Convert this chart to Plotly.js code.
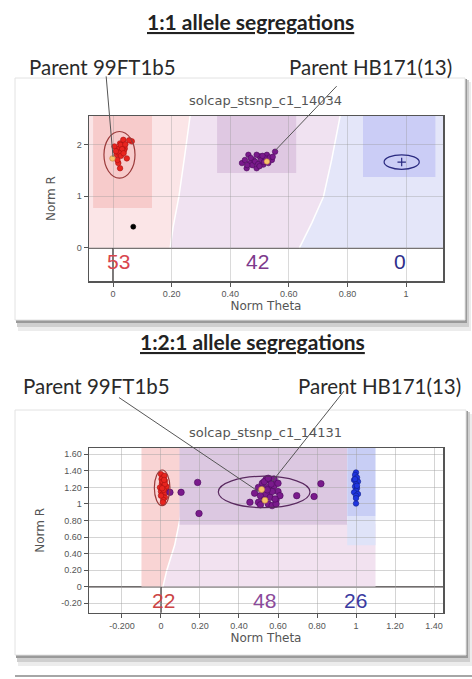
<!DOCTYPE html>
<html>
<head>
<meta charset="utf-8">
<script src="https://cdn.plot.ly/plotly-3.0.1.min.js"></script>
<style>html,body{margin:0;padding:0;background:#fff;}#chart{width:472px;height:679px;}</style>
</head>
<body>
<div id="chart"></div>
<script>
// ---------------- DATA ----------------
// Panel 1 : solcap_stsnp_c1_14034 (1:1 segregation)
var topTitle = "1:1 allele segregations";
var topSnp = "solcap_stsnp_c1_14034";
var topRedX = [0.024,0.035,0.064,0.055,0.018,0.030,0.013,0.047,0.024,0.018,0.040,0.005,0.028,0.033,0.022,0.037,0.026,0.031,0.020,0.042,0.015,0.027,0.036,0.010];
var topRedY = [2.02,2.09,2.06,2.08,1.90,1.86,1.80,1.73,1.54,1.64,1.92,1.96,1.95,1.98,1.93,1.88,1.99,1.91,1.84,2.00,1.70,1.78,1.83,1.87];
var topPurpleX = [0.440,0.456,0.479,0.500,0.525,0.553,0.542,0.513,0.490,0.467,0.450,0.530,0.490,0.462,0.475,0.505,0.520,0.485,0.510,0.535,0.470,0.495,0.545,0.458,0.515,0.500];
var topPurpleY = [1.64,1.54,1.70,1.77,1.80,1.86,1.70,1.61,1.54,1.64,1.70,1.64,1.80,1.80,1.60,1.70,1.73,1.67,1.78,1.75,1.74,1.62,1.76,1.60,1.66,1.58];
var topParentX = [-0.002,0.525];
var topParentY = [1.73,1.67];
var topNoCallX = [0.069];
var topNoCallY = [0.41];
var topCentroidX = [0.985];
var topCentroidY = [1.66];
var topCounts = ["53","42","0"];
var topCountTheta = [0.018,0.494,0.98];
var topEllipseCx = [0.022,0.985];
var topEllipseCy = [1.80,1.66];
var topEllipseRx = [0.053,0.060];
var topEllipseRy = [0.45,0.14];
var topPinkEdgeX = [0.263,0.245,0.225,0.205,0.195];
var topPinkEdgeY = [2.55,1.80,1.00,0.40,0.00];
var topBlueEdgeX = [0.775,0.746,0.718,0.678,0.636];
var topBlueEdgeY = [2.55,1.70,0.99,0.48,0.00];
var topArrowX = [0.000,0.553];
var topArrowY = [1.76,1.88];
var topXTicks = [0,0.2,0.4,0.6,0.8,1];
var topXTickText = ["0","0.20","0.40","0.60","0.80","1"];
var topYTicks = [0,1,2];
var topYTickText = ["0","1","2"];

// Panel 2 : solcap_stsnp_c1_14131 (1:2:1 segregation)
var botTitle = "1:2:1 allele segregations";
var botSnp = "solcap_stsnp_c1_14131";
var botRedX = [0.000,0.010,0.020,0.005,0.015,0.025,0.000,0.010,0.020,-0.005,0.012,0.022,0.003,0.018,0.008,0.028,0.014,0.000,0.020,0.010,0.006,0.016];
var botRedY = [1.36,1.32,1.28,1.25,1.22,1.18,1.15,1.12,1.08,1.20,1.05,1.14,1.30,1.34,1.27,1.21,1.17,1.10,1.24,1.02,1.19,1.29];
var botPurpleX = [0.046,0.103,0.188,0.195,0.456,0.696,0.785,0.820,
  0.500,0.520,0.540,0.560,0.580,0.600,0.510,0.530,0.550,0.570,0.590,0.610,0.500,0.520,0.540,0.560,0.580,0.530,0.550,0.570,0.590,0.510,0.550,0.600,0.480,0.565,0.545,0.585];
var botPurpleY = [1.14,1.14,1.26,0.885,1.02,1.10,1.09,1.245,
  1.20,1.25,1.30,1.28,1.22,1.15,1.10,1.05,1.00,0.98,1.05,1.10,1.02,1.18,1.12,1.08,1.30,1.27,1.20,1.15,1.00,0.99,1.31,1.25,1.13,1.24,1.17,1.06];
var botBlueX = [1.000,0.995,1.005,0.990,1.010,1.000,0.995,1.005,1.000,0.990,1.010,1.000,1.000,0.995,1.005,1.000];
var botBlueY = [1.38,1.35,1.32,1.29,1.27,1.24,1.21,1.19,1.16,1.14,1.12,1.10,1.07,1.30,1.22,1.005];
var botParentX = [0.516,0.533];
var botParentY = [1.175,1.045];
var botCounts = ["22","48","26"];
var botCountTheta = [0.012,0.533,0.995];
var botEllipseCx = [0.006,0.529];
var botEllipseCy = [1.195,1.145];
var botEllipseRx = [0.040,0.235];
var botEllipseRy = [0.215,0.19];
var botPinkEdgeX = [0.105,0.100,0.070,0.030,0.010];
var botPinkEdgeY = [1.676,0.85,0.50,0.20,0.00];
var botArrowX = [0.50,0.57];
var botArrowY = [1.15,1.27];
var botXTicks = [-0.2,0,0.2,0.4,0.6,0.8,1,1.2,1.4];
var botXTickText = ["-0.200","0","0.20","0.40","0.60","0.80","1","1.20","1.40"];
var botYTicks = [-0.2,0,0.2,0.4,0.6,0.8,1,1.2,1.4,1.6];
var botYTickText = ["-0.20","0","0.20","0.40","0.60","0.80","1","1.20","1.40","1.60"];

var parentLabels = ["Parent 99FT1b5","Parent HB171(13)"];

// ---------------- LAYOUT HELPERS ----------------
var W = 472, H = 679;
function px(v){ return v / W; }
function py(v){ return 1 - v / H; }

var topXR = [-0.082,1.126], topYR = [-0.64,2.55];
var botXR = [-0.369,1.446], botYR = [-0.314,1.676];

var tickFont = {family:"Liberation Sans, Arial, sans-serif", size:9, color:"#555"};
var axTitleFont = {family:"DejaVu Sans, sans-serif", size:12, color:"#555"};

function axisBase(extra){
  var a = {showline:true, mirror:true, linecolor:"#555", linewidth:1.5,
    ticks:"outside", ticklen:4, tickcolor:"#555", tickwidth:1,
    zeroline:false, tickfont:tickFont, fixedrange:true, automargin:false};
  for (var k in extra) a[k] = extra[k];
  return a;
}

var shapes = [];
// cards with shadow (paper)
function card(x0,y0,x1,y1){
  shapes.push({type:"rect",xref:"paper",yref:"paper",x0:px(x0+3),x1:px(x1+6),y0:py(y0+4),y1:py(y1+11),fillcolor:"#ececec",line:{width:0},layer:"below"});
  shapes.push({type:"rect",xref:"paper",yref:"paper",x0:px(x0+2),x1:px(x1+4),y0:py(y0+2),y1:py(y1+7),fillcolor:"#cfcfcf",line:{width:0},layer:"below"});
  shapes.push({type:"rect",xref:"paper",yref:"paper",x0:px(x0+1),x1:px(x1+2),y0:py(y0+1),y1:py(y1+3),fillcolor:"#9a9a9a",line:{width:0},layer:"below"});
  shapes.push({type:"rect",xref:"paper",yref:"paper",x0:px(x0),x1:px(x1),y0:py(y0),y1:py(y1),fillcolor:"#ffffff",line:{color:"#e2e2e2",width:1},layer:"below"});
}
card(15,78,465,320);
card(15,410,466,655);
shapes.push({type:"line",xref:"paper",yref:"paper",x0:px(15),x1:1,y0:py(676),y1:py(676),line:{color:"#888",width:1.5},layer:"below"});

function rect(xr,yr,x0,x1,y0,y1,col){
  shapes.push({type:"rect",xref:xr,yref:yr,x0:x0,x1:x1,y0:y0,y1:y1,fillcolor:col,line:{width:0},layer:"below"});
}
function poly(xr,yr,xs,ys,col){
  var d = "M" + xs[0] + "," + ys[0];
  for (var i=1;i<xs.length;i++) d += " L" + xs[i] + "," + ys[i];
  d += " Z";
  shapes.push({type:"path",xref:xr,yref:yr,path:d,fillcolor:col,line:{width:0},layer:"below"});
}
function edgeLine(xr,yr,xs,ys,col){
  var d = "M" + xs[0] + "," + ys[0];
  for (var i=1;i<xs.length;i++) d += " L" + xs[i] + "," + ys[i];
  shapes.push({type:"path",xref:xr,yref:yr,path:d,line:{color:col,width:1.5},layer:"below"});
}

// ---- top regions
rect("x","y",topXR[0],topXR[1],0,topYR[1],"#f0e2f1");
poly("x","y",[topXR[0]].concat(topPinkEdgeX).concat([topXR[0]]),[topYR[1]].concat(topPinkEdgeY).concat([0]),"#fbe5e7");
poly("x","y",[topXR[1]].concat(topBlueEdgeX).concat([topXR[1]]),[topYR[1]].concat(topBlueEdgeY).concat([0]),"#e4e6f9");
edgeLine("x","y",topPinkEdgeX,topPinkEdgeY,"#ffffff");
edgeLine("x","y",topBlueEdgeX,topBlueEdgeY,"#ffffff");
rect("x","y",-0.068,0.133,0.77,topYR[1],"#f7cbcb");
rect("x","y",0.355,0.625,1.45,topYR[1],"#dfc8e2");
rect("x","y",0.853,1.10,1.37,topYR[1],"#cbcdf6");
// ---- bottom regions
rect("x2","y2",0.0,1.10,0,0.76,"#f2e2f0");
poly("x2","y2",[-0.10,-0.10].concat(botPinkEdgeX),[0,botYR[1]].concat(botPinkEdgeY),"#f9d4d4");
edgeLine("x2","y2",botPinkEdgeX,botPinkEdgeY,"#ffffff");
rect("x2","y2",0.095,0.955,0.75,botYR[1],"#dcc8e1");
rect("x2","y2",0.955,1.10,0.50,0.85,"#dfe3f8");
rect("x2","y2",0.955,1.10,0.85,botYR[1],"#c8cef5");

// zero lines
[["x","y"],["x2","y2"]].forEach(function(r){
  shapes.push({type:"line",xref:r[0],yref:r[1]+" domain",x0:0,x1:0,y0:0,y1:1,line:{color:"#4a4444",width:1.5},layer:"below"});
  shapes.push({type:"line",xref:r[0]+" domain",yref:r[1],x0:0,x1:1,y0:0,y1:0,line:{color:"#4a4444",width:1.5},layer:"below"});
});

// cluster ellipses
var topEllCol = ["#9a3a3a","#2a2a80"];
for (var i=0;i<topEllipseCx.length;i++){
  shapes.push({type:"circle",xref:"x",yref:"y",x0:topEllipseCx[i]-topEllipseRx[i],x1:topEllipseCx[i]+topEllipseRx[i],
    y0:topEllipseCy[i]-topEllipseRy[i],y1:topEllipseCy[i]+topEllipseRy[i],line:{color:topEllCol[i],width:1.2},layer:"above"});
}
var botEllCol = ["#9a3a3a","#5a2a60"];
for (var j=0;j<botEllipseCx.length;j++){
  shapes.push({type:"circle",xref:"x2",yref:"y2",x0:botEllipseCx[j]-botEllipseRx[j],x1:botEllipseCx[j]+botEllipseRx[j],
    y0:botEllipseCy[j]-botEllipseRy[j],y1:botEllipseCy[j]+botEllipseRy[j],line:{color:botEllCol[j],width:1.2},layer:"above"});
}

// ---------------- TRACES ----------------
function pts(x,y,xa,ya,col,lc,size,name){
  return {type:"scatter",mode:"markers",x:x,y:y,xaxis:xa,yaxis:ya,name:name,
    marker:{color:col,size:size,line:{color:lc,width:0.6}},hoverinfo:"x+y"};
}
var traces = [
  pts(topRedX,topRedY,"x","y","#e8251f","#a81010",5.5,"AA"),
  pts(topPurpleX,topPurpleY,"x","y","#7a1a8c","#4a0a5a",5.5,"AB"),
  pts(topNoCallX,topNoCallY,"x","y","#000000","#000000",5,"NC"),
  pts(topParentX,topParentY,"x","y","#f7c46a","#c08040",5.5,"Parents"),
  {type:"scatter",mode:"markers",x:topCentroidX,y:topCentroidY,xaxis:"x",yaxis:"y",
    marker:{symbol:"cross-thin",size:6,line:{color:"#2a2a80",width:1.2}},hoverinfo:"skip"},
  pts(botRedX,botRedY,"x2","y2","#e8251f","#a81010",5.5,"AA"),
  pts(botPurpleX,botPurpleY,"x2","y2","#7a1a8c","#4a0a5a",6.5,"AB"),
  pts(botBlueX,botBlueY,"x2","y2","#1f35e0","#10208a",5.5,"BB"),
  pts(botParentX,botParentY,"x2","y2","#f7c46a","#c08040",6,"Parents")
];

// ---------------- ANNOTATIONS ----------------
var ann = [];
var headFont = {family:"Lato, Noto Sans, sans-serif", size:21, color:"#222", weight:"bold", lineposition:"under"};
var parFont = {family:"Lato, Noto Sans, sans-serif", size:20.5, color:"#2a2a2a"};
var snpFont = {family:"DejaVu Sans, sans-serif", size:13, color:"#555"};
ann.push({xref:"paper",yref:"paper",x:px(250),y:py(22),text:"<b>"+topTitle+"</b>",showarrow:false,font:headFont,xanchor:"center",yanchor:"middle"});
ann.push({xref:"paper",yref:"paper",x:px(252),y:py(341),text:"<b>"+botTitle+"</b>",showarrow:false,font:headFont,xanchor:"center",yanchor:"middle"});
ann.push({xref:"paper",yref:"paper",x:px(27),y:py(67),text:parentLabels[0],showarrow:false,font:parFont,xanchor:"left",yanchor:"middle"});
ann.push({xref:"paper",yref:"paper",x:px(454),y:py(67),text:parentLabels[1],showarrow:false,font:parFont,xanchor:"right",yanchor:"middle"});
ann.push({xref:"paper",yref:"paper",x:px(21),y:py(386),text:parentLabels[0],showarrow:false,font:parFont,xanchor:"left",yanchor:"middle"});
ann.push({xref:"paper",yref:"paper",x:px(463),y:py(386),text:parentLabels[1],showarrow:false,font:parFont,xanchor:"right",yanchor:"middle"});
ann.push({xref:"paper",yref:"paper",x:px(265),y:py(100),text:topSnp,showarrow:false,font:snpFont,xanchor:"center",yanchor:"middle"});
ann.push({xref:"paper",yref:"paper",x:px(265),y:py(432),text:botSnp,showarrow:false,font:snpFont,xanchor:"center",yanchor:"middle"});

// pointer lines to parents
var topTail = [[-7,-82],[63,-66]];
var botTail = [[-141,-95],[73,-92]];
for (var a=0;a<2;a++){
  ann.push({xref:"x",yref:"y",x:topArrowX[a],y:topArrowY[a],text:"",showarrow:true,arrowhead:0,arrowwidth:1,arrowcolor:"#555",ax:topTail[a][0],ay:topTail[a][1],standoff:0,startstandoff:0});
  ann.push({xref:"x2",yref:"y2",x:botArrowX[a],y:botArrowY[a],text:"",showarrow:true,arrowhead:0,arrowwidth:1,arrowcolor:"#555",ax:botTail[a][0],ay:botTail[a][1],standoff:0,startstandoff:0});
}

// genotype counts
var topCountCol = ["#d9464e","#7d3a8c","#2e2e8a"];
var botCountCol = ["#cc4545","#8b4b9b","#3a3aa0"];
for (var c=0;c<3;c++){
  ann.push({xref:"x",yref:"y",x:topCountTheta[c],y:-0.27,text:topCounts[c],showarrow:false,
    font:{family:"Liberation Sans, Arial, sans-serif",size:21,color:topCountCol[c]},xanchor:"center",yanchor:"middle"});
  ann.push({xref:"x2",yref:"y2",x:botCountTheta[c],y:-0.165,text:botCounts[c],showarrow:false,
    font:{family:"Liberation Sans, Arial, sans-serif",size:21,color:botCountCol[c]},xanchor:"center",yanchor:"middle"});
}

var layout = {
  width:W, height:H, margin:{l:0,r:0,t:0,b:0},
  paper_bgcolor:"#ffffff", plot_bgcolor:"rgba(0,0,0,0)",
  showlegend:false,
  xaxis: axisBase({domain:[px(89),px(443)],range:topXR,anchor:"y",tickvals:topXTicks,ticktext:topXTickText,
    showgrid:true,gridcolor:"rgba(150,150,150,0.35)",gridwidth:1,title:{text:"Norm Theta",font:axTitleFont,standoff:2}}),
  yaxis: axisBase({domain:[py(281),py(116)],range:topYR,anchor:"x",tickvals:topYTicks,ticktext:topYTickText,
    showgrid:true,gridcolor:"rgba(150,150,150,0.35)",gridwidth:1,title:{text:"Norm R",font:axTitleFont,standoff:18}}),
  xaxis2: axisBase({domain:[px(89),px(443)],range:botXR,anchor:"y2",tickvals:botXTicks,ticktext:botXTickText,
    showgrid:true,gridcolor:"rgba(160,160,160,0.45)",gridwidth:1,title:{text:"Norm Theta",font:axTitleFont,standoff:2}}),
  yaxis2: axisBase({domain:[py(612.7),py(448)],range:botYR,anchor:"x2",tickvals:botYTicks,ticktext:botYTickText,
    showgrid:true,gridcolor:"rgba(160,160,160,0.45)",gridwidth:1,title:{text:"Norm R",font:axTitleFont,standoff:14}}),
  shapes:shapes,
  annotations:ann
};

Plotly.newPlot("chart", traces, layout, {staticPlot:true, displayModeBar:false});
</script>
</body>
</html>
